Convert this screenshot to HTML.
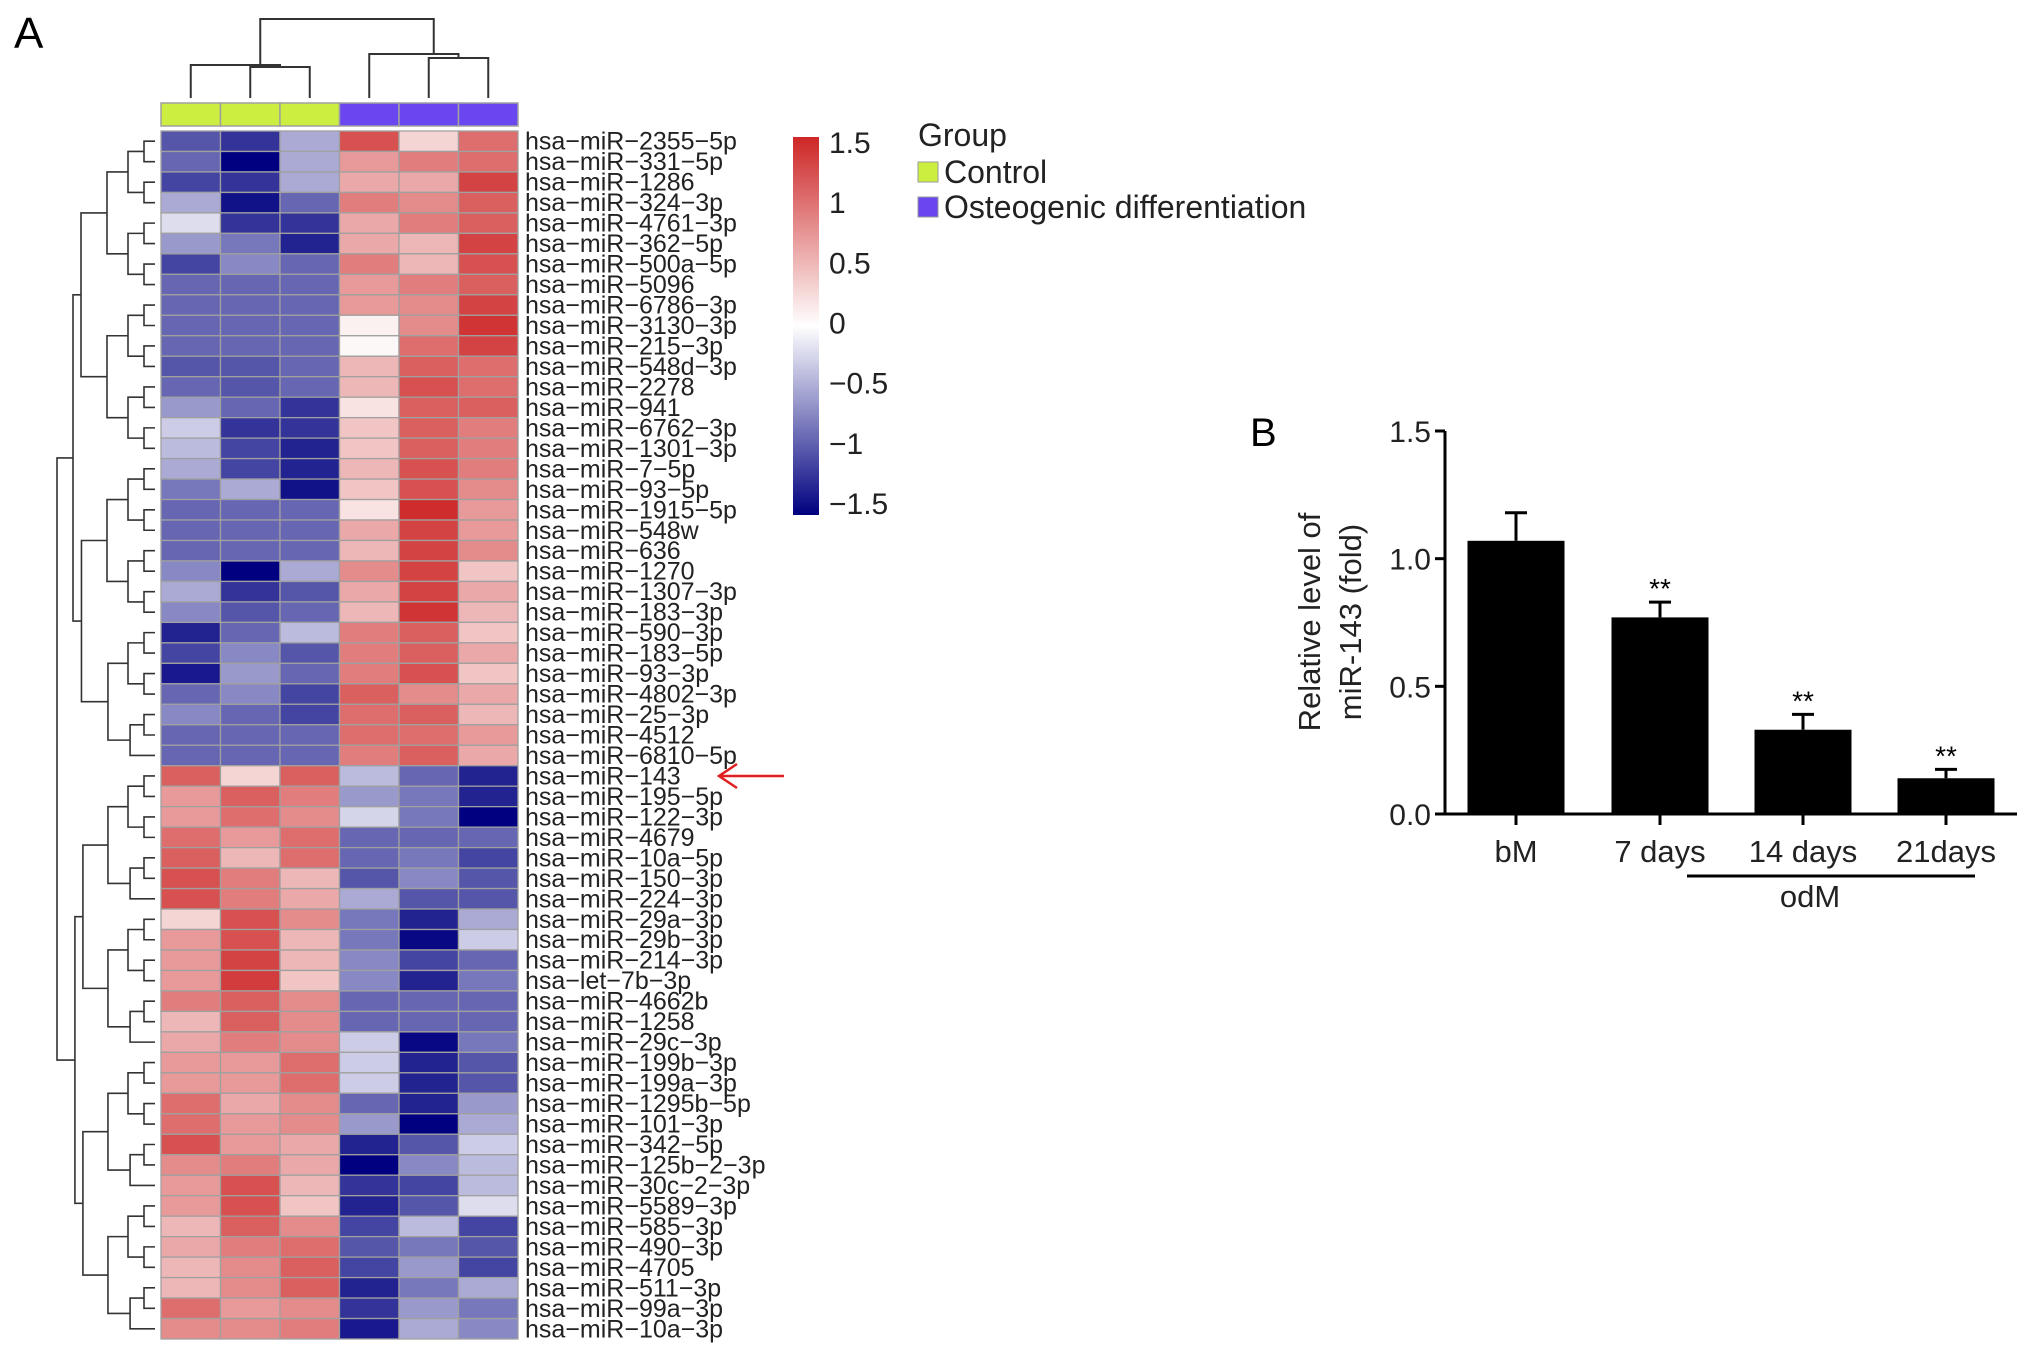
<!DOCTYPE html>
<html><head><meta charset="utf-8"><style>
html,body{margin:0;padding:0;background:#fff;}
svg{display:block;font-family:"Liberation Sans",Arial,sans-serif;}
</style></head><body>
<svg id="fig" width="2032" height="1355" viewBox="0 0 2032 1355">
<text x="14" y="48" font-size="44">A</text>
<text x="1250" y="446" font-size="40">B</text>
<g id="heat"></g>
<g id="bar"></g>
</svg>
<script>
const rowNames=["2355-5p","331-5p","1286","324-3p","4761-3p","362-5p","500a-5p","5096","6786-3p","3130-3p","215-3p","548d-3p","2278","941","6762-3p","1301-3p","7-5p","93-5p","1915-5p","548w","636","1270","1307-3p","183-3p","590-3p","183-5p","93-3p","4802-3p","25-3p","4512","6810-5p","143","195-5p","122-3p","4679","10a-5p","150-3p","224-3p","29a-3p","29b-3p","214-3p","let-7b-3p","4662b","1258","29c-3p","199b-3p","199a-3p","1295b-5p","101-3p","342-5p","125b-2-3p","30c-2-3p","5589-3p","585-3p","490-3p","4705","511-3p","99a-3p","10a-3p"];
const heatValues=[
[-1.0,-1.2,-0.5,1.2,0.3,1.0],[-0.9,-1.5,-0.5,0.7,0.9,1.0],[-1.1,-1.2,-0.5,0.6,0.6,1.3],[-0.5,-1.4,-0.9,0.9,0.8,1.1],
[-0.2,-1.2,-1.2,0.6,0.9,1.1],[-0.6,-0.8,-1.3,0.6,0.5,1.3],[-1.1,-0.7,-0.9,0.9,0.5,1.2],[-0.9,-0.9,-0.9,0.7,0.9,1.1],
[-0.9,-0.9,-0.9,0.7,0.8,1.3],[-0.9,-0.9,-0.9,0.1,0.8,1.4],[-0.9,-0.9,-0.9,0.05,1.0,1.3],[-1.0,-1.0,-0.9,0.5,1.1,1.0],
[-0.9,-1.0,-0.9,0.5,1.2,1.0],[-0.6,-0.9,-1.2,0.2,1.1,1.1],[-0.3,-1.2,-1.2,0.4,1.1,0.9],[-0.4,-1.1,-1.3,0.4,1.1,0.9],
[-0.5,-1.1,-1.3,0.5,1.2,0.9],[-0.8,-0.5,-1.4,0.4,1.2,0.8],[-0.9,-0.9,-0.9,0.2,1.45,0.7],[-0.9,-0.9,-0.9,0.6,1.3,0.7],
[-0.9,-0.9,-0.9,0.5,1.3,0.8],[-0.7,-1.5,-0.5,0.8,1.3,0.4],[-0.5,-1.2,-1.0,0.6,1.3,0.6],[-0.7,-1.0,-0.9,0.5,1.4,0.5],
[-1.3,-0.9,-0.4,0.9,1.1,0.4],[-1.1,-0.7,-1.0,0.9,1.1,0.6],[-1.35,-0.6,-0.9,0.9,1.2,0.4],[-0.9,-0.7,-1.1,1.1,0.8,0.6],
[-0.7,-0.9,-1.1,1.0,1.1,0.5],[-0.9,-0.9,-0.9,1.0,1.0,0.7],[-0.9,-0.9,-0.9,0.9,1.1,0.6],
[1.1,0.3,1.1,-0.4,-0.9,-1.3],[0.7,1.1,0.9,-0.6,-0.8,-1.3],[0.7,1.0,0.8,-0.25,-0.8,-1.5],[1.0,0.7,1.0,-0.9,-0.9,-0.9],
[1.1,0.5,1.0,-0.9,-0.8,-1.1],[1.2,0.9,0.5,-1.0,-0.7,-1.0],[1.2,0.9,0.6,-0.5,-1.0,-1.0],[0.3,1.2,0.8,-0.8,-1.3,-0.5],
[0.7,1.2,0.5,-0.8,-1.45,-0.3],[0.7,1.3,0.5,-0.7,-1.1,-0.9],[0.7,1.35,0.4,-0.7,-1.3,-0.8],[0.9,1.1,0.8,-0.9,-0.9,-0.9],
[0.5,1.1,0.8,-0.9,-0.9,-0.9],[0.6,0.9,0.8,-0.3,-1.45,-0.8],[0.7,0.7,1.0,-0.3,-1.3,-1.0],[0.7,0.7,1.0,-0.3,-1.3,-1.0],
[1.0,0.6,0.8,-0.9,-1.3,-0.6],[1.0,0.7,0.8,-0.6,-1.5,-0.5],[1.2,0.7,0.6,-1.3,-1.0,-0.3],[0.8,0.9,0.6,-1.5,-0.7,-0.4],
[0.7,1.2,0.5,-1.2,-1.1,-0.4],[0.7,1.2,0.4,-1.3,-1.0,-0.2],[0.5,1.1,0.8,-1.1,-0.4,-1.1],[0.6,0.9,1.0,-1.0,-0.8,-1.0],
[0.5,0.8,1.1,-1.1,-0.6,-1.1],[0.5,0.8,1.1,-1.3,-0.8,-0.5],[1.0,0.7,0.8,-1.2,-0.6,-0.8],[0.8,0.8,0.9,-1.35,-0.5,-0.7]];
const groups=["Control","Control","Control","Osteo","Osteo","Osteo"];
const scaleTicks=[1.5,1,0.5,0,-0.5,-1,-1.5];
const barCats=["bM","7 days","14 days","21days"];
const barVals=[1.07,0.77,0.33,0.14];
const barErr=[0.11,0.06,0.06,0.035];
const barSig=["","**","**","**"];
const yTicks=[0,0.5,1.0,1.5];

const NS="http://www.w3.org/2000/svg";
function mk(p,t,a){const e=document.createElementNS(NS,t);for(const k in a)e.setAttribute(k,a[k]);p.appendChild(e);return e;}
function col(v){v=Math.max(-1.5,Math.min(1.5,v))/1.5;let a,b,t;
 if(v<0){a=[0,0,128];b=[255,255,255];t=1+v;}else{a=[255,255,255];b=[205,38,38];t=v;}
 return `rgb(${Math.round(a[0]+(b[0]-a[0])*t)},${Math.round(a[1]+(b[1]-a[1])*t)},${Math.round(a[2]+(b[2]-a[2])*t)})`;}
const H=document.getElementById('heat');
const hx0=161,hx1=518,hy0=131,hy1=1339;
const cw=(hx1-hx0)/6,rh=(hy1-hy0)/rowNames.length;
const cx=i=>hx0+cw*i, ry=j=>hy0+rh*j;
groups.forEach((g,i)=>{const r=mk(H,'rect',{x:cx(i),y:103,width:cw,height:23,fill:g==="Control"?"#cbee40":"#6a46f0",stroke:"#a0a0a0","stroke-width":1.5});
});
heatValues.forEach((row,j)=>{row.forEach((v,i)=>{const r=mk(H,'rect',{x:cx(i),y:ry(j),width:cw,height:rh,fill:col(v),stroke:"#a0a0a0","stroke-width":1.3});
});
 const t=mk(H,'text',{x:525,y:ry(j)+rh/2+8.5,"font-size":25,fill:"#222"});t.textContent="hsa\u2212"+(rowNames[j].startsWith("let")?"":"miR\u2212")+rowNames[j].replace(/-/g,"\u2212");
 });
const dl={stroke:"#333","stroke-width":2,fill:"none"};
const cd=mk(H,'path',Object.assign({d:`M${cx(1)+cw/2} 98V67H${cx(2)+cw/2}V98 M${cx(0)+cw/2} 98V65H${(cx(1)+cx(2))/2+cw/2}V67 M${cx(4)+cw/2} 98V58H${cx(5)+cw/2}V98 M${cx(3)+cw/2} 98V54H${(cx(4)+cx(5))/2+cw/2}V58 M${(cx(0)+cx(1)+cx(2))/3+cw/2+10} 65V19H${(cx(3)+cx(4)+cx(5))/3+cw/2+5}V54`},dl));

let dp="";
function tree(a,b,depth){ if(a===b) return {y:ry(a)+rh/2,x:155};
 const m=Math.floor((a+b)/2);const L=tree(a,m,depth+1),R=tree(m+1,b,depth+1);
 const x=Math.min(L.x,R.x)-(b-a>20?8:(6+Math.log2(b-a+1)*5));
 dp+=`M${L.x} ${L.y}H${x}V${R.y}H${R.x}`;return {x,y:(L.y+R.y)/2};}
const T1=tree(0,30,1),T2=tree(31,58,1);
dp+=`M${T1.x} ${T1.y}H57V${T2.y}H${T2.x}`;
const rd=mk(H,'path',Object.assign({d:dp},dl,{"stroke-width":1.6}));

const ar=mk(H,'path',{d:"M784 776H719 M737 764L719 776L737 788",stroke:"#e02020","stroke-width":2.5,fill:"none"});

const defs=mk(H,'defs',{});const lg=mk(defs,'linearGradient',{id:'cg',x1:0,y1:0,x2:0,y2:1});
[1.5,0,-1.5].forEach((v,i)=>mk(lg,'stop',{offset:i/2,"stop-color":col(v)}));
const cb=mk(H,'rect',{x:793,y:137,width:26,height:378,fill:"url(#cg)"});

const sy=v=>143+(1.5-v)/3*(504-143);
scaleTicks.forEach(v=>{const t=mk(H,'text',{x:829,y:sy(v)+10,"font-size":30,fill:"#222"});t.textContent=(v<0?"\u2212":"")+Math.abs(v);
});
const lt=mk(H,'text',{x:918,y:146,"font-size":32,fill:"#222"});lt.textContent="Group";
[["Control","#cbee40",172],["Osteogenic differentiation","#6a46f0",207]].forEach(([n,c,y])=>{
 const r=mk(H,'rect',{x:918,y:y-10,width:20,height:20,fill:c,stroke:"#999"});
 const t=mk(H,'text',{x:944,y:y+11,"font-size":32,fill:"#222"});t.textContent=n;});
const B=document.getElementById('bar');
const ax=1445,yb=814,yt=431,xe=2017;
const Y=v=>yb-(v/1.5)*(yb-yt);
const bc=[1516,1660,1803,1946],bw=97;
const axp=mk(B,'path',{d:`M${ax} ${yt}V${yb}H${xe}`,stroke:"#000","stroke-width":3,fill:"none"});

yTicks.forEach(v=>{mk(B,'line',{x1:ax-10,x2:ax,y1:Y(v),y2:Y(v),stroke:"#000","stroke-width":3});
 const t=mk(B,'text',{x:ax-14,y:Y(v)+11,"font-size":30,"text-anchor":"end",fill:"#222"});t.textContent=v.toFixed(1);
 });
barVals.forEach((v,i)=>{
 mk(B,'path',{d:`M${bc[i]} ${Y(v)}V${Y(v+barErr[i])} M${bc[i]-11} ${Y(v+barErr[i])}H${bc[i]+11}`,stroke:"#000","stroke-width":3});
 const r=mk(B,'rect',{x:bc[i]-bw/2,y:Y(v),width:bw,height:yb-Y(v),fill:"#000"});
 
 mk(B,'line',{x1:bc[i],x2:bc[i],y1:yb,y2:yb+11,stroke:"#000","stroke-width":3});
 const t=mk(B,'text',{x:bc[i],y:862,"font-size":31,"text-anchor":"middle",fill:"#222"});t.textContent=barCats[i];
 
 if(barSig[i]){const s=mk(B,'text',{x:bc[i],y:Y(v+barErr[i])-4,"font-size":28,"text-anchor":"middle"});s.textContent=barSig[i];
 }});
const od=mk(B,'line',{x1:1687,x2:1975,y1:876,y2:876,stroke:"#000","stroke-width":3});
const ot=mk(B,'text',{x:1810,y:907,"font-size":31,"text-anchor":"middle",fill:"#222"});ot.textContent="odM";
const yt1=mk(B,'text',{x:0,y:0,"font-size":31,"text-anchor":"middle",fill:"#222",transform:"translate(1320,622) rotate(-90)"});yt1.textContent="Relative level of";

const yt2=mk(B,'text',{x:0,y:0,"font-size":31,"text-anchor":"middle",fill:"#222",transform:"translate(1361,622) rotate(-90)"});yt2.textContent="miR-143 (fold)";

</script>
</body></html>
